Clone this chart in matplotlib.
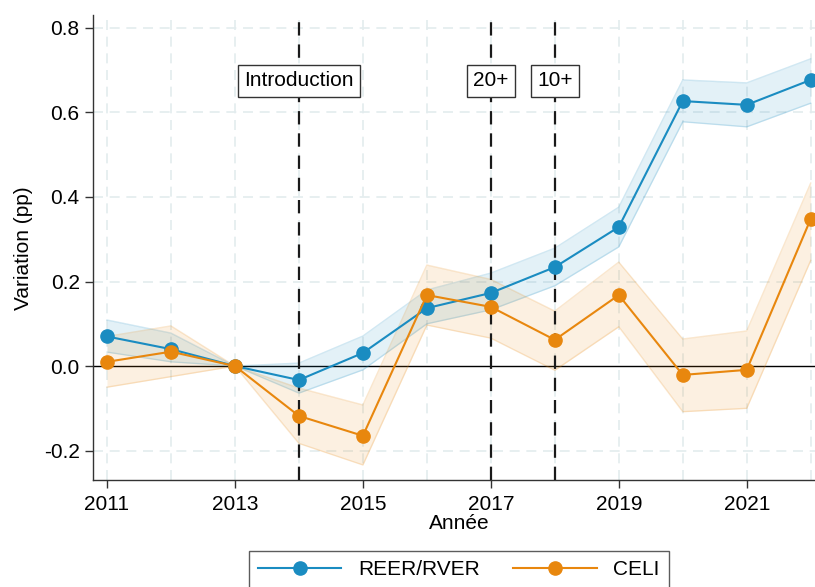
import matplotlib
matplotlib.use("Agg")
import matplotlib.pyplot as plt
import numpy as np

plt.rcParams["font.family"] = ["Liberation Sans", "DejaVu Sans"]

# Données
annees = [2011, 2012, 2013, 2014, 2015, 2016, 2017, 2018, 2019, 2020, 2021, 2022]

reer = [0.070, 0.040, 0.0, -0.033, 0.031, 0.137, 0.173, 0.234, 0.329, 0.627, 0.618, 0.677]
reer_haut = [0.109, 0.078, 0.0, 0.007, 0.071, 0.180, 0.220, 0.279, 0.376, 0.677, 0.670, 0.727]
reer_bas = [0.033, 0.010, 0.0, -0.064, -0.009, 0.100, 0.133, 0.190, 0.282, 0.578, 0.566, 0.622]

celi = [0.010, 0.034, 0.0, -0.118, -0.165, 0.168, 0.140, 0.062, 0.168, -0.021, -0.009, 0.348]
celi_haut = [0.070, 0.095, 0.0, -0.052, -0.092, 0.239, 0.205, 0.130, 0.246, 0.064, 0.083, 0.433]
celi_bas = [-0.050, -0.025, 0.0, -0.183, -0.234, 0.097, 0.066, -0.010, 0.093, -0.108, -0.100, 0.250]

evenements = [2014, 2017, 2018]
etiquettes = ["Introduction", "20+", "10+"]

x_ticks = [2011, 2013, 2015, 2017, 2019, 2021]
y_ticks = [-0.2, 0.0, 0.2, 0.4, 0.6, 0.8]

BLEU = "#1a8cc1"
ORANGE = "#e8870e"
GRILLE = "#e3ecee"
FS = 15

fig = plt.figure(figsize=(8.15, 5.87), dpi=100)
ax = fig.add_axes([0.114, 0.182, 0.898, 0.792])

# Grille pointillée
for a in annees:
    ax.axvline(a, color=GRILLE, lw=1.2, ls=(0, (6, 4)), zorder=0)
for v in [-0.2, 0.2, 0.4, 0.6, 0.8]:
    ax.axhline(v, color=GRILLE, lw=1.2, ls=(0, (6, 4)), zorder=0)

ax.axhline(0, color="black", lw=1.0, zorder=1)

# Intervalles de confiance
ax.fill_between(annees, reer_bas, reer_haut, color=BLEU, alpha=0.12,
                linewidth=0, zorder=2)
ax.plot(annees, reer_haut, color=BLEU, alpha=0.2, lw=1, zorder=2)
ax.plot(annees, reer_bas, color=BLEU, alpha=0.2, lw=1, zorder=2)
ax.fill_between(annees, celi_bas, celi_haut, color=ORANGE, alpha=0.12,
                linewidth=0, zorder=2)
ax.plot(annees, celi_haut, color=ORANGE, alpha=0.2, lw=1, zorder=2)
ax.plot(annees, celi_bas, color=ORANGE, alpha=0.2, lw=1, zorder=2)

# Séries
ax.plot(annees, reer, color=BLEU, lw=1.5, marker="o", ms=9.5, label="REER/RVER", zorder=4)
ax.plot(annees, celi, color=ORANGE, lw=1.5, marker="o", ms=9.5, label="CELI", zorder=4)

# Lignes verticales et étiquettes
for a, lab in zip(evenements, etiquettes):
    ax.axvline(a, color="#1a1a1a", lw=1.6, ls=(0, (6, 4)), zorder=3)
    ax.text(a, 0.675, lab, ha="center", va="center", fontsize=FS,
            bbox=dict(boxstyle="square,pad=0.3", fc="white", ec="#333333", lw=1),
            zorder=5)

ax.set_xlim(2010.78, 2022.22)
ax.set_ylim(-0.27, 0.83)
ax.set_xticks(x_ticks)
ax.set_yticks(y_ticks)
ax.set_yticklabels(["-0.2", "0.0", "0.2", "0.4", "0.6", "0.8"])
ax.tick_params(labelsize=FS, length=6, width=1, color="#333333")
ax.tick_params(axis="x", pad=5)

for s in ["top", "right"]:
    ax.spines[s].set_visible(False)
for s in ["left", "bottom"]:
    ax.spines[s].set_color("#333333")
    ax.spines[s].set_linewidth(1)

ax.set_xlabel("Année", fontsize=FS, labelpad=0)
ax.set_ylabel("Variation (pp)", fontsize=FS, labelpad=8)

# Légende en bas
leg = ax.legend(loc="upper center", ncol=2, fontsize=FS, frameon=True,
                fancybox=False, edgecolor="#333333", handlelength=4.0,
                columnspacing=1.6, borderpad=0.45, handletextpad=0.8)
leg.set_bbox_to_anchor((0.563, 0.079), transform=fig.transFigure)
leg.get_frame().set_linewidth(1)

fig.savefig("out.png", dpi=100)
